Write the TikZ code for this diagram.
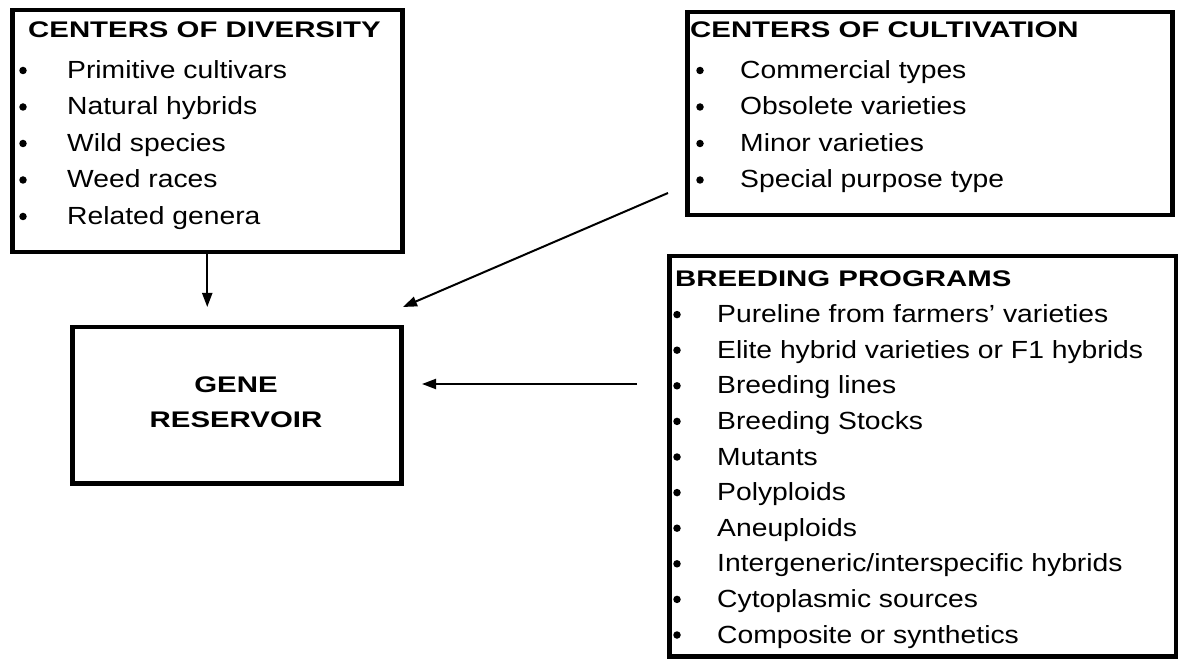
\documentclass[tikz,border=0pt]{standalone}
\usepackage{fontspec}
\setmainfont{Liberation Sans}
\usetikzlibrary{arrows.meta}
\newcommand{\hdtxt}[1]{\scalebox{1.3}[1]{\fontsize{22.6}{26}\selectfont\bfseries #1}}
\newcommand{\itmtxt}[1]{\scalebox{1.14}[1]{\fontsize{24.8}{28}\selectfont #1}}
\begin{document}
\begin{tikzpicture}[x=1pt,y=-1pt,
  box/.style={draw, line width=4.5pt, inner sep=0pt, anchor=north west},
  txt/.style={anchor=base west, inner sep=0pt},
  dot/.style={circle, fill, inner sep=0pt, minimum size=7.5pt},
  arr/.style={line width=2pt, -{Triangle[length=14pt,width=10pt]}}]
\useasboundingbox (0,0) rectangle (1178,660);
% boxes
\node[box, minimum width=390pt, minimum height=242pt] (div) at (10,8) {};
\node[box, minimum width=485pt, minimum height=203pt] (cult) at (685,10) {};
\node[box, minimum width=507pt, minimum height=400pt] (breed) at (667,254) {};
\node[box, minimum width=329pt, minimum height=156pt] (gene) at (70,325) {};
% diversity
\node[txt] (divh) at (28,38) {\hdtxt{CENTERS OF DIVERSITY}};
\foreach \t [count=\i] in {Primitive cultivars, Natural hybrids, Wild species, Weed races, Related genera}{
  \node[txt] (divt\i) at (67,{42+36.5*\i}) {\itmtxt{\t}};
  \node[dot] (divb\i) at (23,{34+36.5*\i}) {};
}
% cultivation
\node[txt] (culth) at (690,38) {\hdtxt{CENTERS OF CULTIVATION}};
\foreach \t [count=\i] in {Commercial types, Obsolete varieties, Minor varieties, Special purpose type}{
  \node[txt] (cultt\i) at (740,{42+36.5*\i}) {\itmtxt{\t}};
  \node[dot] (cultb\i) at (700,{34+36.5*\i}) {};
}
% breeding
\node[txt] (breedh) at (675,287) {\hdtxt{BREEDING PROGRAMS}};
\foreach \t [count=\i] in {Pureline from farmers’ varieties, Elite hybrid varieties or F1 hybrids, Breeding lines, Breeding Stocks, Mutants, Polyploids, Aneuploids, Intergeneric/interspecific hybrids, Cytoplasmic sources, Composite or synthetics}{
  \node[txt] (breedt\i) at (717,{287+35.6*\i}) {\itmtxt{\t}};
  \node[dot] (breedb\i) at (677,{279+35.6*\i}) {};
}
% gene reservoir
\node[anchor=base, inner sep=0pt] (gene1) at (236,392) {\hdtxt{GENE}};
\node[anchor=base, inner sep=0pt] (gene2) at (236,427) {\hdtxt{RESERVOIR}};
% connectors
\coordinate (c1) at (668,193);
\coordinate (g1) at (403,307);
\coordinate (b1) at (637,384);
\coordinate (g2) at (422,384);
\draw[arr, shorten >=18pt] (div.south) -- (div.south |- gene.north);
\draw[arr] (c1) -- (g1);
\draw[arr] (b1) -- (g2);
\end{tikzpicture}
\end{document}
